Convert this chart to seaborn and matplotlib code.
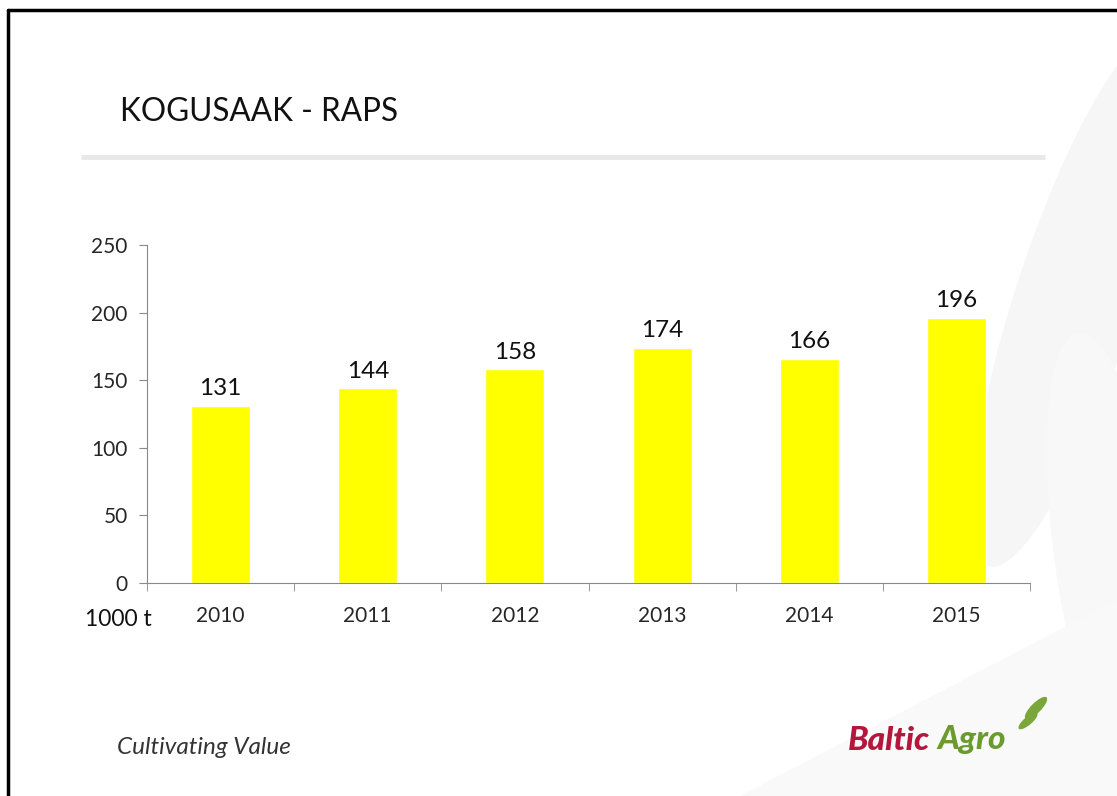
import matplotlib
matplotlib.use("Agg")
import matplotlib.pyplot as plt
import matplotlib.patches as mpatches
import seaborn as sns
import pandas as pd

# Andmed: rapsi kogusaak (1000 t)
aastad = ["2010", "2011", "2012", "2013", "2014", "2015"]
kogusaak = [131, 144, 158, 174, 166, 196]

sns.set_style("white")
plt.rcParams["font.family"] = ["Lato", "DejaVu Sans"]

df = pd.DataFrame({"aasta": aastad, "saak": kogusaak})

fig = plt.figure(figsize=(11.17, 7.96), dpi=100)

# faint background shapes on the right
bg = fig.add_axes([0, 0, 1, 1], zorder=-5)
bg.set_xlim(0, 1117)
bg.set_ylim(796, 0)
bg.axis("off")
bg.add_patch(mpatches.Ellipse((1075, 300), 120, 560, angle=18, color="#f6f6f6", lw=0))
bg.add_patch(mpatches.Ellipse((1110, 560), 110, 460, angle=-8, color="#f8f8f8", lw=0))
bg.add_patch(mpatches.Polygon([[740, 796], [1117, 796], [1117, 600]], color="#f9f9f9", lw=0))
# slide border
bg.plot([8, 8], [10, 796], color="black", lw=2.5)
bg.plot([8, 1117], [10, 10], color="black", lw=2.5)
# gray rule under title
bg.plot([81, 1045], [157, 157], color="#e8e8e8", lw=3.5, solid_capstyle="butt")

fig.text(120 / 1117, 1 - 112 / 796, "KOGUSAAK - RAPS", fontsize=22.7, va="center", ha="left", color="#111111")
fig.text(117 / 1117, 1 - 748 / 796, "Cultivating Value", fontsize=17.5, style="italic", va="center", ha="left", color="#333333")

# logo
fig.text(848 / 1117, 1 - 740 / 796, "Baltic", fontsize=24, fontweight="black", style="italic", color="#b5173c", va="center", ha="left")
fig.text(937 / 1117, 1 - 740 / 796, "Agro", fontsize=24, fontweight="black", style="italic", color="#6b9b2f", va="center", ha="left")
bg.add_patch(mpatches.Ellipse((1036, 708), 10, 30, angle=45, color="#7aa63a", lw=0))
bg.add_patch(mpatches.Ellipse((1028, 721), 8, 24, angle=50, color="#7aa63a", lw=0))

ax = fig.add_axes([147 / 1117, 1 - 583 / 796, (1030 - 147) / 1117, (583 - 245) / 796])
ax.patch.set_alpha(0)
sns.barplot(data=df, x="aasta", y="saak", color="#ffff00", saturation=1, width=0.4, ax=ax)

for i, v in enumerate(kogusaak):
    ax.text(i, v + 5, str(v), ha="center", va="bottom", fontsize=17.5, color="#111111")

ax.set_ylim(0, 250)
ax.set_xlim(-0.5, len(aastad) - 0.5)
ax.set_yticks(range(0, 251, 50))
ax.set_xlabel("")
ax.set_ylabel("")
for s in ["top", "right"]:
    ax.spines[s].set_visible(False)
ax.spines["left"].set_color("#888888")
ax.spines["bottom"].set_color("#888888")
ax.tick_params(axis="y", left=True, length=6, color="#888888", labelsize=15, pad=8)
ax.tick_params(axis="x", bottom=False, labelsize=15, pad=13)
ax.set_xticks(range(len(aastad)), aastad)
ax.set_xticks([i - 0.5 for i in range(len(aastad) + 1)], minor=True)
ax.tick_params(axis="x", which="minor", bottom=True, length=6, color="#888888")

fig.text(85 / 1117, 1 - 620 / 796, "1000 t", fontsize=16.5, va="center", ha="left", color="#111111")

fig.savefig("out.png", dpi=100)
